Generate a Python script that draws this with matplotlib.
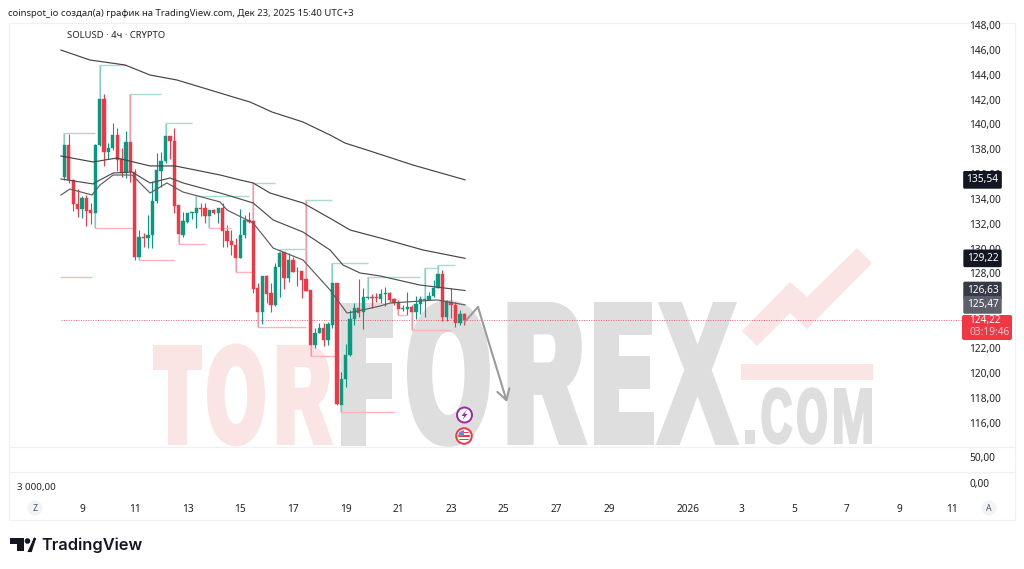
import matplotlib
matplotlib.use('Agg')
import matplotlib.pyplot as plt
import matplotlib.patheffects as pe
from matplotlib.font_manager import FontProperties
from matplotlib.patches import Circle, FancyBboxPatch, Polygon, Rectangle
from matplotlib.textpath import TextPath
from matplotlib.transforms import Affine2D

plt.rcParams['font.family'] = ['Noto Sans', 'DejaVu Sans']

GREEN = '#089981'
RED = '#f23645'
PALE_GREEN = '#a6ddd3'
PALE_RED = '#fbb5bb'
PINK = '#fbe4e4'
GREY = '#dedede'

# 4h candles, first one sits at Dec 8 08:00
opens = [135.74, 138.32, 135.53, 133.6, 133.17, 134.08, 133.1, 132.87, 138.35, 142.02,
         137.78, 138.08, 139.12, 137.19, 136.06, 138.59, 136.2, 129.3, 130.97, 130.86,
         131.13, 133.81, 136.28, 137.03, 139.07, 138.67, 133.49, 131.13, 132.17, 132.85,
         132.85, 133.27, 133.27, 132.63, 133.11, 132.9, 133.24, 131.45, 130.64, 130.26,
         129.24, 131.07, 132.3, 132.2, 126.8, 124.92, 127.8, 126.4, 125.46, 128.55,
         129.73, 127.61, 129.08, 128.17, 128.17, 127.53, 126.67, 122.24, 123.18, 123.58,
         122.64, 123.88, 127.2, 117.44, 119.48, 121.41, 124.3, 125.19, 124.9, 126.05,
         126.13, 126.13, 125.94, 126.32, 126.46, 125.92, 125.65, 125.11, 125.17, 125.33,
         124.9, 125.54, 125.89, 125.89, 126.16, 126.86, 127.98, 124.52, 125.73, 125.46,
         124.04, 124.71]
highs = [139.29, 139.23, 135.6, 134.78, 134.24, 134.32, 133.65, 138.4, 144.81, 142.45,
         138.48, 140.09, 139.69, 138.08, 139.47, 142.45, 136.4, 131.5, 131.3, 132.71,
         135.47, 137.68, 137.81, 140.09, 139.07, 139.69, 133.5, 132.98, 132.9, 132.92,
         134.24, 133.65, 133.65, 133.11, 133.16, 133.3, 133.65, 131.9, 131.5, 130.83,
         133.16, 132.71, 132.98, 135.31, 127.2, 127.8, 127.9, 127.2, 128.87, 129.97,
         129.73, 129.62, 129.35, 128.55, 128.17, 133.91, 126.67, 123.58, 123.98, 123.98,
         124.12, 128.87, 127.2, 120.09, 122.32, 125.06, 125.6, 127.53, 126.8, 127.69,
         126.35, 126.4, 126.72, 126.88, 126.54, 126.0, 125.86, 125.46, 126.48, 125.46,
         126.19, 126.19, 128.41, 126.54, 127.47, 128.66, 128.28, 125.86, 126.8, 125.73,
         125.06, 124.79]
lows = [135.53, 135.31, 133.06, 132.58, 132.44, 131.82, 132.0, 131.64, 138.27, 136.66,
        137.19, 137.94, 136.28, 135.8, 135.66, 135.39, 129.09, 129.09, 130.16, 130.03,
        130.03, 133.65, 134.99, 136.87, 137.19, 132.9, 130.35, 130.97, 132.1, 132.36,
        131.64, 132.63, 132.09, 131.64, 132.76, 132.1, 130.16, 130.16, 129.49, 128.14,
        129.24, 130.83, 132.04, 126.45, 123.66, 123.93, 125.6, 124.92, 125.41, 126.13,
        126.72, 127.34, 128.12, 126.99, 126.0, 126.6, 121.35, 121.97, 123.18, 122.16,
        122.24, 123.58, 117.41, 116.87, 118.9, 121.35, 123.85, 124.52, 123.5, 125.92,
        125.19, 125.73, 125.6, 125.38, 125.73, 125.46, 124.66, 125.0, 124.66, 123.45,
        124.31, 124.74, 124.52, 125.86, 126.13, 126.8, 124.2, 124.2, 124.39, 123.72,
        123.85, 123.85]
closes = [138.32, 135.53, 133.6, 133.17, 134.08, 133.06, 132.84, 138.37, 142.02, 137.78,
          138.1, 139.12, 137.14, 136.07, 138.59, 136.2, 129.3, 130.97, 130.86, 131.13,
          133.81, 136.33, 137.03, 139.07, 138.64, 133.43, 131.18, 132.2, 132.85, 132.92,
          133.27, 133.22, 132.63, 133.11, 132.9, 133.24, 131.45, 130.64, 130.26, 129.24,
          131.1, 132.3, 132.14, 126.78, 124.92, 127.8, 126.35, 125.46, 128.55, 129.67,
          127.61, 129.08, 128.12, 128.22, 127.47, 126.61, 122.24, 123.18, 123.58, 122.64,
          123.93, 127.2, 117.46, 119.48, 121.43, 124.33, 125.19, 124.84, 126.08, 126.13,
          126.05, 126.05, 126.35, 126.46, 125.86, 125.65, 125.11, 125.19, 125.33, 124.9,
          125.54, 125.94, 125.94, 126.19, 126.86, 127.98, 124.52, 125.81, 125.46, 124.04,
          124.71, 124.22]

# moving averages, (day, price)
ma1_days = [8.20, 9.30, 10.63, 11.58, 12.60, 14.24, 14.61, 15.37, 16.21, 17.38, 18.41, 18.98, 19.93, 21.56, 23.53]
ma1_vals = [145.99, 145.19, 144.79, 143.98, 143.58, 142.53, 142.29, 141.81, 141.0, 140.2, 139.15, 138.5, 137.86, 136.73, 135.54]
ma2_days = [8.20, 9.42, 10.33, 11.58, 12.53, 14.24, 14.99, 15.49, 16.13, 17.38, 18.52, 19.17, 20.31, 21.94, 23.53]
ma2_vals = [137.46, 136.98, 137.30, 136.66, 136.66, 135.93, 135.53, 135.29, 134.48, 133.68, 132.31, 131.50, 130.86, 129.89, 129.22]
ma3_days = [8.20, 9.42, 9.68, 10.18, 10.90, 11.58, 12.34, 12.83, 14.24, 14.50, 15.49, 16.25, 17.38, 18.41, 18.90, 19.55, 20.31, 21.82, 23.53]
ma3_vals = [135.61, 135.21, 135.53, 136.09, 136.17, 135.29, 135.69, 135.29, 134.48, 134.32, 133.68, 132.31, 131.34, 129.89, 128.68, 128.04, 127.80, 127.07, 126.63]
ma4_days = [8.20, 8.54, 9.38, 9.68, 10.18, 10.90, 11.58, 12.22, 12.83, 14.24, 14.50, 15.11, 15.49, 16.25, 17.38, 18.41, 19.05, 19.28, 20.31, 20.68, 22.47, 23.53]
ma4_vals = [134.32, 134.80, 134.32, 135.12, 135.93, 135.93, 134.48, 135.29, 134.56, 133.76, 133.11, 132.47, 132.07, 130.05, 129.09, 126.67, 124.82, 124.90, 125.38, 125.62, 125.87, 125.47]

# pivot levels, candle index where they start and stop
pivot_hi_start = [0, 8, 15, 23, 30, 43, 49, 55, 61, 69, 82, 85]
pivot_hi_end = [7, 14, 22, 29, 42, 48, 55, 61, 69, 81, 85, 89]
pivot_lo_start = [7, 17, 26, 33, 39, 44, 56, 63, 76, 79]
pivot_lo_end = [16, 25, 32, 38, 43, 55, 62, 75, 78, 88]
stray_days = [8.20, 9.35]
stray_price = 127.72

# drawn forecast arrow
arrow_days = [23.53, 24.02, 25.12]
arrow_prices = [124.14, 125.3, 117.65]

last_price = 124.22
countdown = '03:19:46'
# 124 and 126 are covered by the price labels in the picture
price_ticks = [116, 118, 120, 122, 128, 130, 132, 134, 136, 138, 140, 142, 144, 146, 148]
day_ticks = [9, 11, 13, 15, 17, 19, 21, 23, 25, 27, 29, 32, 34, 36, 38, 40, 42]
day_labels = ['9', '11', '13', '15', '17', '19', '21', '23', '25', '27', '29', '2026', '3', '5', '7', '9', '11']
ma_labels = [(135.54, '#131722'), (129.22, '#131722'), (126.63, '#363a45'), (125.47, '#5d606b')]


class Squeeze(pe.AbstractPathEffect):
    # narrows a letter around its centre and thickens it, the logo font is a heavy condensed one
    def __init__(self, sx, cx, stroke):
        self.sx = sx
        self.cx = cx
        self.stroke = stroke

    def draw_path(self, renderer, gc, tpath, affine, rgbFace=None):
        gc2 = renderer.new_gc()
        gc2.copy_properties(gc)
        gc2.set_linewidth(self.stroke)
        gc2.set_foreground(rgbFace[:3])
        gc2.set_joinstyle('miter')
        t = affine + Affine2D().translate(-self.cx, 0).scale(self.sx, 1).translate(self.cx, 0)
        renderer.draw_path(gc2, tpath, t, rgbFace)
        gc2.restore()


def logo_letters(canvas, letters, top, bottom, color):
    fp = FontProperties(family='Liberation Sans', weight='bold')
    cap = TextPath((0, 0), 'H', size=1, prop=fp).get_extents().height
    for ch, x0, x1, stroke_px in letters:
        size = (bottom - top - stroke_px) / cap * 72 / 100
        ink = TextPath((0, 0), ch, size=size, prop=fp).get_extents().width * 100 / 72
        sx = (x1 - x0 - stroke_px) / ink
        cx = (x0 + x1) / 2
        canvas.text(cx, bottom - stroke_px / 2, ch, fontproperties=fp, fontsize=size, color=color,
                    ha='center', va='baseline', zorder=1,
                    path_effects=[Squeeze(sx, cx, stroke_px * 0.72)])


def main():
    fig = plt.figure(figsize=(10.24, 5.69), dpi=100, facecolor='white')

    # pixel canvas behind the chart: frame, watermark, logo
    canvas = fig.add_axes([0, 0, 1, 1], zorder=0)
    canvas.set_xlim(0, 1024)
    canvas.set_ylim(569, 0)
    canvas.axis('off')

    canvas.add_patch(Rectangle((8.5, 22.5), 1006.5, 497, fc='none', ec='#eef0f4', lw=0.9))
    canvas.plot([8.5, 1015], [446.5, 446.5], color='#eef0f4', lw=0.9)
    canvas.plot([8.5, 1015], [471.5, 471.5], color='#eef0f4', lw=0.9)

    logo_letters(canvas, [('T', 153, 202, 10), ('O', 207, 265, 7), ('R', 275, 330, 7)], 345, 445, PINK)
    # FOREX stands taller than TOR
    logo_letters(canvas, [('F', 339, 391, 15), ('O', 407, 490, 10), ('R', 505, 583, 11), ('E', 593, 653, 12), ('X', 657, 738, 6)],
                 302, 445, GREY)
    logo_letters(canvas, [('.', 745, 755, 2), ('C', 761, 792, 3), ('O', 797, 827, 3), ('M', 834, 872, 2)], 388, 444, GREY)
    canvas.add_patch(Rectangle((740.5, 363.5), 132, 16, fc=PINK, ec='none'))
    canvas.add_patch(Polygon([(742, 331), (790, 282), (807, 297), (857, 248), (872, 263), (807, 329), (790, 313), (757, 346)],
                             fc=PINK, ec='none'))

    # TradingView mark and name
    canvas.add_patch(Polygon([(10, 538), (24, 538), (24, 551), (17, 551), (17, 544), (10, 544)], fc='#131722', ec='none'))
    canvas.add_patch(Circle((27.5, 541), 2.8, fc='#131722', ec='none'))
    canvas.add_patch(Polygon([(29, 551), (35, 538), (35, 538), (31, 551)], fc='#131722', ec='#131722', lw=1.5))
    canvas.text(41, 545, 'TradingView', fontsize=11.8, fontweight='semibold', color='#131722',
                family='Inter', ha='left', va='center')

    canvas.text(8, 13, 'coinspot_io создал(а) график на TradingView.com, Дек 23, 2025 15:40 UTC+3',
                fontsize=6.85, color='#222222', ha='left', va='center')
    canvas.text(67, 35, 'SOLUSD · 4ч · CRYPTO', fontsize=6.8, color='#222222', ha='left', va='center')
    canvas.text(969, 458, '50,00', fontsize=7.3, color='#222222', ha='left', va='center')
    canvas.text(969, 484, '0,00', fontsize=7.3, color='#222222', ha='left', va='center')
    canvas.text(17, 487, '3 000,00', fontsize=7, color='#222222', ha='left', va='center')
    for x, s in [(35, 'Z'), (989, 'A')]:
        canvas.add_patch(Circle((x, 508), 7.5, fc='#f0f3fa', ec='none'))
        canvas.text(x, 508, s, fontsize=6.3, color='#555555', ha='center', va='center')

    # event markers under the candles
    canvas.add_patch(Circle((464.5, 415), 7.5, fc='white', ec='#9c27b0', lw=1.4, zorder=3))
    canvas.add_patch(Polygon([(466.5, 410), (461.5, 416), (464.3, 416), (462.5, 420), (467.5, 414), (464.7, 414)],
                             fc='#9c27b0', ec='none', zorder=4))
    canvas.add_patch(Circle((464, 436), 7.8, fc='white', ec='#f23645', lw=1.4, zorder=3))
    flag = Circle((464, 436), 5.8, transform=canvas.transData)
    for y0 in [431.5, 435, 438.5]:
        stripe = Rectangle((456, y0), 16, 1.8, fc='#f23645', ec='none', zorder=4)
        canvas.add_patch(stripe)
        stripe.set_clip_path(flag)
    canton = Rectangle((456, 430), 8, 6, fc='#5b8fd9', ec='none', zorder=5)
    canvas.add_patch(canton)
    canton.set_clip_path(flag)

    # box of the last price, its text goes on the price pane
    canvas.add_patch(FancyBboxPatch((964, 317), 46, 21, boxstyle='round,pad=2,rounding_size=2', fc=RED, ec='none', zorder=2))

    # main price pane, days of December on x (Jan 1 = 32)
    ax = fig.add_axes([9 / 1024, 1 - 446 / 569, 1006 / 1024, 424 / 569], zorder=1)
    ax.patch.set_alpha(0)
    ax.set_xlim(6.23, 44.39)
    ax.set_ylim(114.11, 148.25)
    for s in ax.spines.values():
        s.set_visible(False)

    days = [8 + 1 / 3 + i / 6 for i in range(len(opens))]
    colors = [GREEN if c >= o else RED for o, c in zip(opens, closes)]
    ax.vlines(days, lows, highs, colors=colors, lw=0.8, zorder=2)

    for st, en in zip(pivot_hi_start, pivot_hi_end):
        ax.plot([days[st], days[en]], [highs[st], highs[st]], color=PALE_GREEN, lw=1, zorder=2.2, solid_capstyle='butt')
        pale = PALE_GREEN if closes[st] >= opens[st] else PALE_RED
        ax.vlines(days[st], max(opens[st], closes[st]), highs[st], colors=pale, lw=1.1, zorder=2.2)
    for st, en in zip(pivot_lo_start, pivot_lo_end):
        ax.plot([days[st], days[en]], [lows[st], lows[st]], color=PALE_RED, lw=1, zorder=2.2, solid_capstyle='butt')
        pale = PALE_GREEN if closes[st] >= opens[st] else PALE_RED
        ax.vlines(days[st], lows[st], min(opens[st], closes[st]), colors=pale, lw=1.1, zorder=2.2)
    ax.plot(stray_days, [stray_price, stray_price], color=PALE_RED, lw=1, zorder=2.2)

    bottoms = [min(o, c) for o, c in zip(opens, closes)]
    heights = [abs(o - c) for o, c in zip(opens, closes)]
    ax.bar(days, heights, bottom=bottoms, width=0.125, color=colors, edgecolor=colors, lw=0.3, zorder=3)

    for xs, ys, col in [(ma1_days, ma1_vals, '#444444'), (ma2_days, ma2_vals, '#444444'),
                        (ma3_days, ma3_vals, '#4d4d4d'), (ma4_days, ma4_vals, '#5c5c5c')]:
        ax.plot(xs, ys, color=col, lw=0.85, zorder=4, solid_joinstyle='round')

    ax.plot([8.2, 42.38], [last_price, last_price], color=RED, lw=0.7, ls=(0, (1, 1.5)), alpha=0.8, zorder=1.5)

    ax.plot(arrow_days[:2], arrow_prices[:2], color='#9b9b9b', lw=1.5, zorder=4.5, solid_capstyle='round')
    ax.annotate('', xy=(arrow_days[2], arrow_prices[2]), xytext=(arrow_days[1], arrow_prices[1]),
                arrowprops=dict(arrowstyle='->,head_length=0.75,head_width=0.45', color='#9b9b9b', lw=1.5,
                                shrinkA=0, shrinkB=0), zorder=4.5)

    ax.yaxis.tick_right()
    ax.set_yticks(price_ticks)
    ax.set_yticklabels(['%d,00' % p for p in price_ticks], fontsize=7.3, color='#222222')
    ax.tick_params(axis='y', length=0, pad=-33)
    ax.set_xticks(day_ticks)
    ax.set_xticklabels(day_labels, fontsize=7.3, color='#222222')
    ax.get_xticklabels()[day_labels.index('2026')].set_fontweight('bold')
    ax.tick_params(axis='x', length=0, pad=42)

    # price labels on the right, tied to the value through the y transform
    tr = ax.get_yaxis_transform()
    for val, col in ma_labels:
        ax.text(0.9677, val, ('%.2f' % val).replace('.', ','), transform=tr, fontsize=7.3, color='white',
                ha='center', va='center', zorder=6,
                bbox=dict(boxstyle='round,pad=0.33,rounding_size=0.15', fc=col, ec='none'))
    ax.text(0.9543, last_price, ('%.2f' % last_price).replace('.', ','), transform=tr, fontsize=7.3, color='white',
            ha='left', va='center', zorder=8)
    ax.text(0.9543, last_price - 0.98, countdown, transform=tr, fontsize=7.3, color='#ffc9ce',
            ha='left', va='center', zorder=8)

    fig.savefig('out.png', dpi=100)


main()
